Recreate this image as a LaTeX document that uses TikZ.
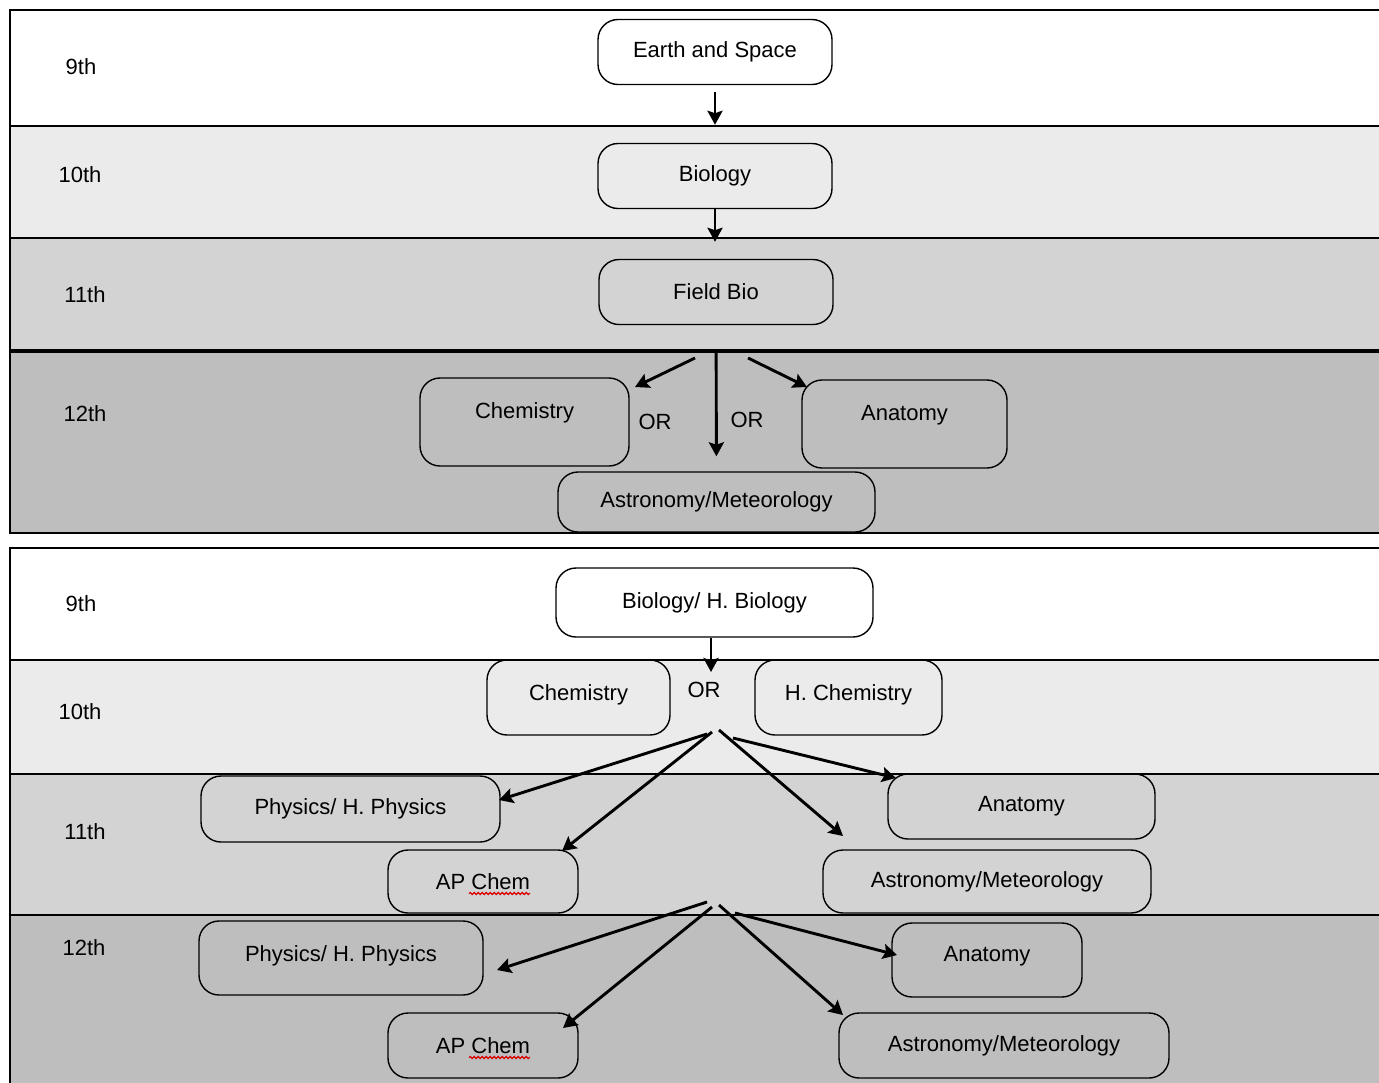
\documentclass[tikz,border=0pt]{standalone}
\usepackage{fontspec}
\setmainfont{Liberation Sans}
\usetikzlibrary{arrows.meta, decorations.pathmorphing}
\definecolor{rowtenth}{RGB}{235, 235, 235}
\definecolor{roweleventh}{RGB}{211, 211, 211}
\definecolor{rowtwelfth}{RGB}{190, 190, 190}

\begin{document}
\begin{tikzpicture}[x = 0.5pt, y = -0.5pt, font = \fontsize{11}{13}\selectfont,
  course/.style = {draw, rounded corners = 10pt, line width = 0.7pt, align = center, inner sep = 2pt},
  tallcourse/.style = {course, text height = 8pt, text depth = 12pt},
  flow/.style = {line width = 1.45pt, -{Stealth[length = 7pt, width = 7.5pt, inset = 1.2pt]}},
  rowline/.style = {line width = 0.8pt},
  spellmark/.style = {red!85!black, line width = 0.6pt, decorate, decoration = {snake, amplitude = 0.5pt, segment length = 2pt}}]
  \useasboundingbox (0,0) rectangle (1379,1082);
  \fill [white] (0,0) rectangle (1379,1082);

  % bands
  \foreach \top/\a/\b/\c/\bot in {10/126/238/351/533, 548/660/774/915/1100} {
    \fill [rowtenth] (10,\a) rectangle (1390,\b);
    \fill [roweleventh] (10,\b) rectangle (1390,\c);
    \fill [rowtwelfth] (10,\c) rectangle (1390,\bot);
    \draw [rowline] (10,\top) rectangle (1390,\bot);
    \draw [rowline] (10,\a) -- (1390,\a) (10,\b) -- (1390,\b);
  }
  \draw [line width = 1.6pt] (10,351) -- (1390,351);
  \draw [line width = 1.1pt] (10,915) -- (1390,915);

  % grades
  \node (ninthA) at (81,67) {9th};
  \node (tenthA) at (80,175) {10th};
  \node (eleventhA) at (85,295) {11th};
  \node (twelfthA) at (85,414) {12th};
  \node (ninthB) at (81,604) {9th};
  \node (tenthB) at (80,712) {10th};
  \node (eleventhB) at (85,832) {11th};
  \node (twelfthB) at (84,948) {12th};

  % nodes, first track
  \node [course, minimum width = 117pt, minimum height = 32.5pt] (earth) at (715,52) {Earth and Space};
  \node [course, minimum width = 117pt, minimum height = 32.5pt] (bio) at (715,176) {Biology};
  \node [course, minimum width = 117pt, minimum height = 32.5pt] (fieldbio) at (716,292) {Field Bio};
  \node [tallcourse, minimum width = 104.5pt, minimum height = 44pt] (chem) at (524.5,422) {Chemistry};
  \node (orchem) at (655,422) {OR};
  \node (oranat) at (747,420) {OR};
  \node [tallcourse, minimum width = 102.5pt, minimum height = 44pt] (anat) at (904.5,424) {Anatomy};
  \node [course, minimum width = 158.5pt, minimum height = 30pt] (astro) at (716.5,502) {Astronomy/Meteorology};

  % edges, first track
  \coordinate (forkL) at (695,358);
  \coordinate (forkR) at (748,358);
  \coordinate (chemtip) at (635,387);
  \coordinate (anattip) at (807,387);
  \draw [flow, shorten <= 3.5pt, shorten >= 9pt] (earth) to (bio);
  \draw [flow, shorten >= 8.5pt] (bio) to (bio |- fieldbio.north);
  \draw [flow] (forkL) to (chemtip);
  \draw [flow, shorten <= 13.5pt, shorten >= 7.5pt] (fieldbio) to (astro);
  \draw [flow] (forkR) to (anattip);

  % nodes, second track
  \node [course, minimum width = 158.5pt, minimum height = 34.5pt] (biohbio) at (714.5,602.5) {Biology/ H. Biology};
  \node [course, minimum width = 91.5pt, minimum height = 37.5pt, text height = 8pt, text depth = 5pt] (chemtwo) at (578.5,697.5) {Chemistry};
  \node (orchemtwo) at (704,690) {OR};
  \node [course, minimum width = 93.5pt, minimum height = 37.5pt, text height = 8pt, text depth = 5pt] (hchem) at (848.5,697.5) {H. Chemistry};
  \node [course, minimum width = 149.5pt, minimum height = 33pt] (physicsA) at (350.5,809) {Physics/ H. Physics};
  \node [course, minimum width = 95pt, minimum height = 31.5pt] (apchemA) at (483,881.5) {AP Chem};
  \node [course, minimum width = 133.5pt, minimum height = 32.5pt] (anatA) at (1021.5,806.5) {Anatomy};
  \node [course, minimum width = 164pt, minimum height = 31.5pt] (astroA) at (987,881.5) {Astronomy/Meteorology};
  \node [course, minimum width = 142pt, minimum height = 37pt, text height = 8pt, text depth = 5pt] (physicsB) at (341,958) {Physics/ H. Physics};
  \node [course, minimum width = 95pt, minimum height = 32.5pt] (apchemB) at (483,1045.5) {AP Chem};
  \node [course, minimum width = 95pt, minimum height = 37pt, text height = 8pt, text depth = 7pt] (anatB) at (987,960) {Anatomy};
  \node [course, minimum width = 165pt, minimum height = 32.5pt] (astroB) at (1004,1045.5) {Astronomy/Meteorology};
  \draw [spellmark] ([shift = {(-14,12)}]apchemA.center) -- ++(61,0);
  \draw [spellmark] ([shift = {(-14,12)}]apchemB.center) -- ++(61,0);

  % edges, second track
  \coordinate (ortip) at (711,672);
  \coordinate (splitP) at (707,734);
  \coordinate (splitC) at (712,732);
  \coordinate (splitS) at (719,730);
  \coordinate (splitN) at (733,738);
  \coordinate (physicsAtip) at (499,800);
  \coordinate (apchemAtip) at (562,851);
  \coordinate (astroAtip) at (843,836);
  \coordinate (anatAtip) at (896,778);
  \coordinate (branchP) at (707,902);
  \coordinate (branchC) at (712,907);
  \coordinate (branchS) at (719,905);
  \coordinate (branchN) at (735,913);
  \coordinate (physicsBtip) at (497,970);
  \coordinate (apchemBtip) at (563,1028);
  \coordinate (astroBtip) at (843,1015);
  \coordinate (anatBtip) at (897,955);
  \draw [flow] (biohbio.south -| ortip) to (ortip);
  \draw [flow] (splitP) to (physicsAtip);
  \draw [flow] (splitC) to (apchemAtip);
  \draw [flow] (splitS) to (astroAtip);
  \draw [flow] (splitN) to (anatAtip);
  \draw [flow] (branchP) to (physicsBtip);
  \draw [flow] (branchC) to (apchemBtip);
  \draw [flow] (branchS) to (astroBtip);
  \draw [flow] (branchN) to (anatBtip);
\end{tikzpicture}
\end{document}
